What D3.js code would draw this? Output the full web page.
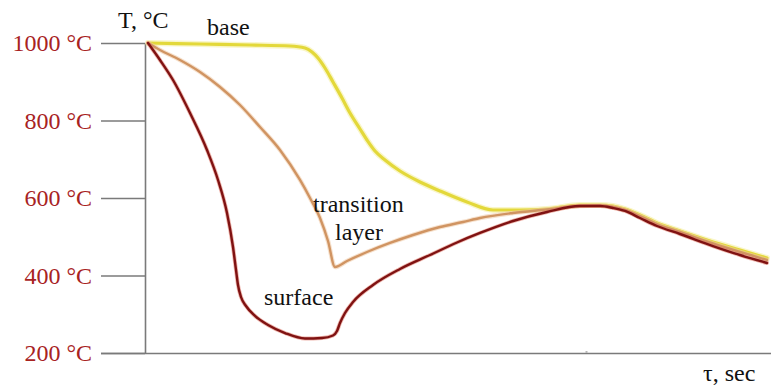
<!DOCTYPE html>
<html>
<head>
<meta charset="utf-8">
<script src="https://cdn.jsdelivr.net/npm/d3@7"></script>
<style>
  html, body { margin: 0; padding: 0; background: #fff; }
  svg { display: block; }
  text { font-family: "Liberation Serif", "DejaVu Serif", serif; }
</style>
</head>
<body>
<svg id="chart" width="771" height="387"></svg>
<script>
// ---- data (τ in arbitrary seconds, T in °C) ----
const yTickValues = [200, 400, 600, 800, 1000];
const xTickValues = [88];

const baseTau = [0.4, 10.8, 20.8, 28.8, 31.8, 33.2, 34.4, 35.8, 37.4, 39.2, 40.8, 42.8, 44.2, 45.8, 47.8, 50.8, 54.8, 58.8, 64.2, 69.4, 74.8, 80.2, 86.8, 90.8, 93.4, 95.8, 98.8, 102.2, 106.8, 113.4, 118.8, 124.2];
const baseT   = [1000, 997.4, 994.8, 992.3, 987.1, 976.8, 961.3, 935.5, 899.4, 858.1, 819.4, 778.1, 749.7, 721.3, 698.1, 669.7, 641.3, 618.1, 589.7, 569.0, 569.0, 571.6, 581.9, 581.9, 579.4, 571.6, 556.1, 535.5, 514.8, 486.5, 465.8, 445.2];

const transTau = [0.4, 2.8, 6.8, 10.8, 14.8, 18.8, 22.8, 26.8, 30.8, 32.8, 34.8, 36.4, 37.8, 40.2, 44.2, 48.8, 53.4, 58.8, 63.4, 66.8, 73.4, 80.2, 86.8, 90.8, 93.4, 95.8, 98.8, 102.2, 106.8, 113.4, 118.8, 124.2];
const transT   = [1000, 982.0, 956.1, 925.2, 886.5, 840.0, 783.2, 723.9, 646.5, 600.0, 548.4, 489.0, 421.9, 437.4, 460.6, 483.9, 504.5, 525.2, 538.1, 548.4, 561.3, 570.3, 579.4, 580.6, 576.8, 569.0, 553.5, 532.9, 512.3, 482.6, 460.6, 440.0];

const surfTau = [0.4, 2.8, 5.4, 8.8, 12.2, 14.4, 16.2, 17.4, 18.0, 18.4, 19.0, 20.0, 21.8, 24.4, 27.8, 31.8, 35.2, 37.4, 38.2, 38.8, 39.8, 41.4, 45.4, 50.8, 56.8, 62.2, 66.8, 73.4, 80.2, 86.8, 90.8, 93.4, 95.8, 98.8, 102.2, 106.8, 113.4, 118.8, 124.2];
const surfT   = [1000, 956.1, 904.5, 819.4, 723.9, 646.5, 561.3, 473.5, 414.2, 375.5, 344.5, 321.3, 295.5, 272.3, 251.6, 237.4, 238.7, 245.2, 256.8, 277.4, 303.2, 331.6, 375.5, 416.8, 452.9, 485.2, 509.7, 540.6, 563.9, 579.4, 579.4, 574.2, 566.5, 548.4, 527.7, 507.1, 476.1, 452.9, 432.3];

const labels = { yAxis: "T, °C", xAxis: "τ, sec", base: "base", trans1: "transition", trans2: "layer", surf: "surface" };

// ---- drawing ----
const svg = d3.select("#chart");
const x = d3.scaleLinear().domain([0, 125]).range([146, 771]);
const y = d3.scaleLinear().domain([200, 1000]).range([353, 43]);

const axisColor = "#7a7a7a";
const tickColor = "#a8231f";

// Y axis
const yAxis = d3.axisLeft(y).tickValues(yTickValues).tickSize(44).tickSizeOuter(0).tickPadding(9)
  .tickFormat(d => d + " °C");
const gy = svg.append("g").attr("transform", "translate(145,0)").call(yAxis);
gy.selectAll("path.domain").attr("stroke", axisColor).attr("stroke-width", 1.6);
gy.selectAll(".tick line").attr("stroke", axisColor).attr("stroke-width", 1.6);
gy.selectAll(".tick text").attr("fill", tickColor).attr("font-size", 24)
  .attr("font-family", "Liberation Serif, serif").attr("dy", "0.33em");

// X axis
const xAxis = d3.axisBottom(x).tickValues(xTickValues).tickSize(-2).tickSizeOuter(0).tickFormat("");
const gx = svg.append("g").attr("transform", "translate(0,353)").call(xAxis);
gx.selectAll("path.domain").attr("stroke", axisColor).attr("stroke-width", 1.6)
  .attr("d", "M101,0.5H771");
gx.selectAll(".tick line").attr("stroke", "#b8b8b8").attr("stroke-width", 2);

// lines
const mk = (tau, T) => tau.map((t, i) => [t, T[i]]);
const line = d3.line().x(d => x(d[0])).y(d => y(d[1])).curve(d3.curveMonotoneX);

const series = [
  { data: mk(baseTau, baseT), halo: "#f4ef9c", color: "#e3d83a", w: 3.2, hw: 6 },
  { data: mk(transTau, transT), halo: "#efc9a4", color: "#d09462", w: 2.4, hw: 4.5 },
  { data: mk(surfTau, surfT), halo: "#e07a6a", color: "#7f1212", w: 2.4, hw: 4 }
];
series.forEach(s => {
  svg.append("path").datum(s.data).attr("d", line).attr("fill", "none")
    .attr("stroke", s.halo).attr("stroke-width", s.hw).attr("stroke-opacity", 0.55)
    .attr("stroke-linejoin", "round").attr("stroke-linecap", "round");
  svg.append("path").datum(s.data).attr("d", line).attr("fill", "none")
    .attr("stroke", s.color).attr("stroke-width", s.w)
    .attr("stroke-linejoin", "round").attr("stroke-linecap", "round");
});

// texts
const txt = (s, px, py, anchor) => svg.append("text").attr("x", px).attr("y", py)
  .attr("text-anchor", anchor || "start").attr("font-size", 24).attr("fill", "#111").text(s);
txt(labels.yAxis, 118, 28);
txt(labels.base, 207, 35);
txt(labels.trans1, 313, 212);
txt(labels.trans2, 359, 240, "middle");
txt(labels.surf, 264, 305);
txt(labels.xAxis, 703, 381);
</script>
</body>
</html>
